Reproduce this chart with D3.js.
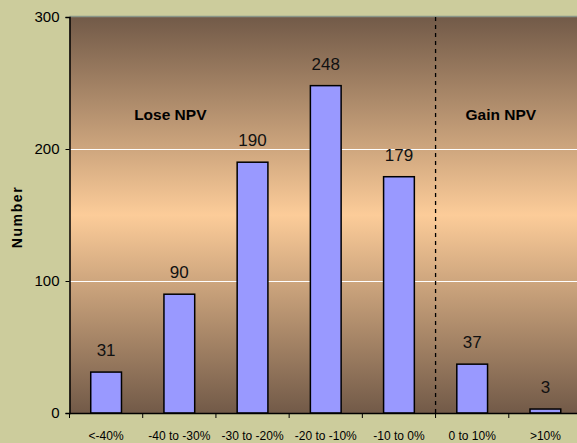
<!DOCTYPE html>
<html>
<head>
<meta charset="utf-8">
<script src="https://cdn.jsdelivr.net/npm/d3@7"></script>
<style>
  body { margin: 0; background: #cccc9c; }
  svg { display: block; font-family: "Liberation Sans", Arial, sans-serif; }
</style>
</head>
<body>
<svg width="577" height="443"></svg>
<script>
var categories = ["<-40%", "-40 to -30%", "-30 to -20%", "-20 to -10%", "-10 to 0%", "0 to 10%", ">10%"];
var counts = [31, 90, 190, 248, 179, 37, 3];
var yTicks = [0, 100, 200, 300];
var regionLabels = [
    {text: "Lose NPV", from: 0, to: 2, dx: -9},
    {text: "Gain NPV", from: 5, to: 6, dx: -8}
];

var svg = d3.select("svg");
var plotL = 69.5, plotR = 582, plotT = 17, plotB = 413;

var x = d3.scaleBand().domain(categories).range([plotL, plotR]).padding(0);
var y = d3.scaleLinear().domain([0, 300]).range([plotB, plotT]);
var barW = x.bandwidth() * 0.42;

var defs = svg.append("defs");
var grad = defs.append("linearGradient")
    .attr("id", "bg").attr("x1", 0).attr("y1", 0).attr("x2", 0).attr("y2", 1);
grad.append("stop").attr("offset", "0%").attr("stop-color", "#725a48");
grad.append("stop").attr("offset", "50%").attr("stop-color", "#fccc99");
grad.append("stop").attr("offset", "100%").attr("stop-color", "#725a48");

svg.append("rect")
    .attr("x", plotL).attr("y", plotT)
    .attr("width", plotR - plotL).attr("height", plotB - plotT)
    .attr("fill", "url(#bg)");

// top border
svg.append("line")
    .attr("x1", plotL).attr("x2", plotR)
    .attr("y1", plotT - 0.5).attr("y2", plotT - 0.5)
    .attr("stroke", "#8a9688").attr("stroke-width", 1.5);

// gridlines
svg.selectAll("line.grid")
    .data(yTicks.filter(function(d) { return d > 0 && d < 300; }))
    .enter().append("line")
    .attr("class", "grid")
    .attr("x1", plotL).attr("x2", plotR)
    .attr("y1", function(d) { return Math.round(y(d)) + 0.5; })
    .attr("y2", function(d) { return Math.round(y(d)) + 0.5; })
    .attr("stroke", "#ffffff").attr("stroke-width", 1);

// dashed divider between loss and gain
var divX = x(categories[5]);
svg.append("line")
    .attr("x1", divX).attr("x2", divX)
    .attr("y1", plotT).attr("y2", plotB)
    .attr("stroke", "#000").attr("stroke-width", 1.3)
    .attr("stroke-dasharray", "4,4");

// bars
svg.selectAll("rect.bar")
    .data(counts)
    .enter().append("rect")
    .attr("class", "bar")
    .attr("x", function(d, i) { return x(categories[i]) + x.bandwidth() / 2 - barW / 2; })
    .attr("y", function(d) { return y(d); })
    .attr("width", barW)
    .attr("height", function(d) { return plotB - y(d); })
    .attr("fill", "#9999ff")
    .attr("stroke", "#000")
    .attr("stroke-width", 1.5);

// value labels
svg.selectAll("text.val")
    .data(counts)
    .enter().append("text")
    .attr("class", "val")
    .attr("x", function(d, i) { return x(categories[i]) + x.bandwidth() / 2; })
    .attr("y", function(d) { return y(d) - 16; })
    .attr("text-anchor", "middle")
    .attr("font-size", 17)
    .attr("fill", "#111")
    .text(function(d) { return d; });

// region labels
svg.selectAll("text.region")
    .data(regionLabels)
    .enter().append("text")
    .attr("class", "region")
    .attr("x", function(d) {
        return (x(categories[d.from]) + x(categories[d.to]) + x.bandwidth()) / 2 + d.dx;
    })
    .attr("y", 120)
    .attr("text-anchor", "middle")
    .attr("font-size", 15.5)
    .attr("font-weight", "bold")
    .attr("fill", "#000")
    .text(function(d) { return d.text; });

// axes
var yAxis = d3.axisLeft(y).tickValues(yTicks).tickSize(4).tickPadding(6);
var gy = svg.append("g").attr("transform", "translate(" + plotL + ",0)").call(yAxis);
gy.select(".domain").attr("stroke", "#000").attr("stroke-width", 1.5);
gy.selectAll(".tick line").attr("stroke", "#000");
gy.selectAll("text").attr("font-size", 15).attr("fill", "#000")
    .attr("font-family", "Liberation Sans, Arial, sans-serif");

var xAxis = d3.axisBottom(x).tickSize(0).tickPadding(18);
var gx = svg.append("g").attr("transform", "translate(0," + plotB + ")").call(xAxis);
gx.select(".domain").attr("stroke", "#000").attr("stroke-width", 1.5);
gx.selectAll("text").attr("font-size", 12).attr("fill", "#000")
    .attr("font-family", "Liberation Sans, Arial, sans-serif");

// category boundary ticks
svg.selectAll("line.xtick")
    .data(categories)
    .enter().append("line")
    .attr("class", "xtick")
    .attr("x1", function(d) { return x(d); })
    .attr("x2", function(d) { return x(d); })
    .attr("y1", plotB).attr("y2", plotB + 5)
    .attr("stroke", "#000");

svg.append("text")
    .attr("transform", "translate(22," + 217 + ") rotate(-90)")
    .attr("text-anchor", "middle")
    .attr("font-size", 14)
    .attr("font-weight", "bold")
    .attr("letter-spacing", 1.6)
    .text("Number");
</script>
</body>
</html>
